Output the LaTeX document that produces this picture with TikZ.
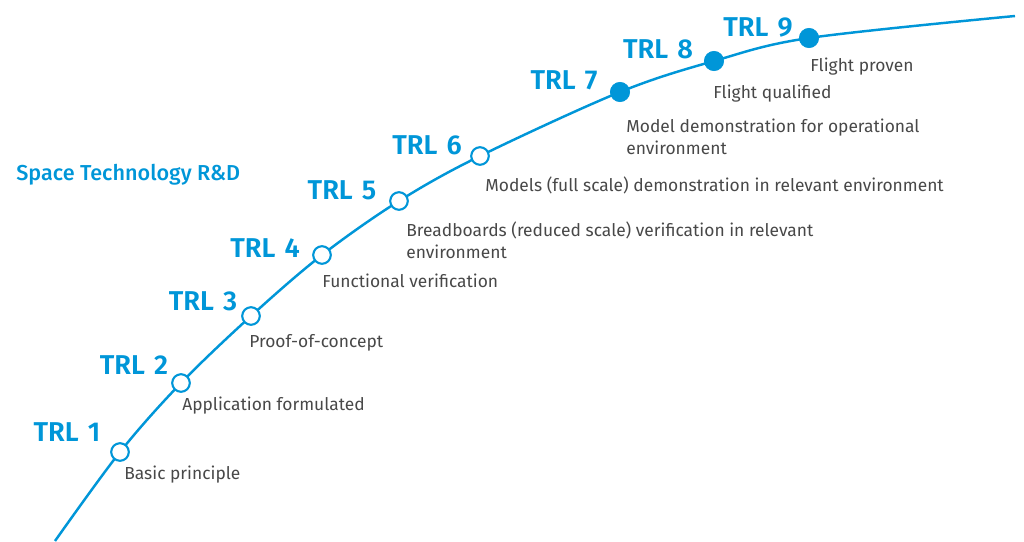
\documentclass[tikz,border=0pt]{standalone}
\usepackage{fontspec}
\setmainfont{Fira Sans}
\newfontfamily\trlfont{Fira Sans SemiBold}
\newfontfamily\headfont{Fira Sans Medium}
\definecolor{esablue}{RGB}{0,150,216}
\definecolor{txtgray}{RGB}{72,72,72}

\begin{document}
\begin{tikzpicture}[x=0.02cm, y=-0.02cm]
\tikzset{
  open/.style = {draw=esablue, line width=1.2pt, fill=white, shape=circle, minimum size=10pt, inner sep=0pt},
  full/.style = {draw=esablue, fill=esablue, shape=circle, minimum size=11pt, inner sep=0pt},
  trl/.style = {text=esablue, font=\trlfont\fontsize{15.5}{18}\selectfont, inner sep=0pt},
  desc/.style = {text=txtgray, font=\fontsize{9.9}{12.5}\selectfont, anchor=west, inner sep=0pt, align=left}
}
\useasboundingbox (0,0) rectangle (1024,541);

% points on the curve
\coordinate (s) at (55, 541);
\coordinate (p1) at (120, 452);
\coordinate (p2) at (181, 383);
\coordinate (p3) at (251, 316);
\coordinate (p4) at (322, 255);
\coordinate (p5) at (399, 201);
\coordinate (p6) at (480, 156);
\coordinate (p7) at (620, 92);
\coordinate (p8) at (714, 61);
\coordinate (p9) at (809, 38);
\coordinate (e) at (1015, 16);

\draw [esablue, line width=1.4pt] plot [smooth, tension=0.55] coordinates {(s) (p1) (p2) (p3) (p4) (p5) (p6) (p7) (p8) (p9) (e)};

\node [open] (a) at (p1) {};
\node [open] (b) at (p2) {};
\node [open] (c) at (p3) {};
\node [open] (d) at (p4) {};
\node [open] (f) at (p5) {};
\node [open] (g) at (p6) {};
\node [full] (h) at (p7) {};
\node [full] (i) at (p8) {};
\node [full] (j) at (p9) {};

\node [trl] (ta) at (67, 432) {TRL\,\,1};
\node [trl] (tb) at (134, 365) {TRL\,\,2};
\node [trl] (tc) at (203, 301) {TRL\,\,3};
\node [trl] (td) at (265, 248) {TRL\,\,4};
\node [trl] (tf) at (342, 190) {TRL\,\,5};
\node [trl] (tg) at (427, 145) {TRL\,\,6};
\node [trl] (th) at (564, 80) {TRL\,\,7};
\node [trl] (ti) at (658, 49) {TRL\,\,8};
\node [trl] (tj) at (758, 27) {TRL\,\,9};

\node [desc] (da) at (124, 475) {Basic principle};
\node [desc] (db) at (182, 406) {Application formulated};
\node [desc] (dc) at (249, 343) {Proof-of-concept};
\node [desc] (dd) at (322, 281) {Functional verification};
\node [desc] (df) at (406, 240) {Breadboards (reduced scale) verification in relevant\\environment};
\node [desc] (dg) at (485, 185) {Models (full scale) demonstration in relevant environment};
\node [desc] (dh) at (626, 137) {Model demonstration for operational\\environment};
\node [desc] (di) at (713, 94) {Flight qualified};
\node [desc] (dj) at (810, 67) {Flight proven};

\node [anchor=west, inner sep=0pt, text=esablue, font=\headfont\fontsize{12.3}{15}\selectfont] (title) at (16, 175) {Space Technology R\&D};
\end{tikzpicture}
\end{document}
